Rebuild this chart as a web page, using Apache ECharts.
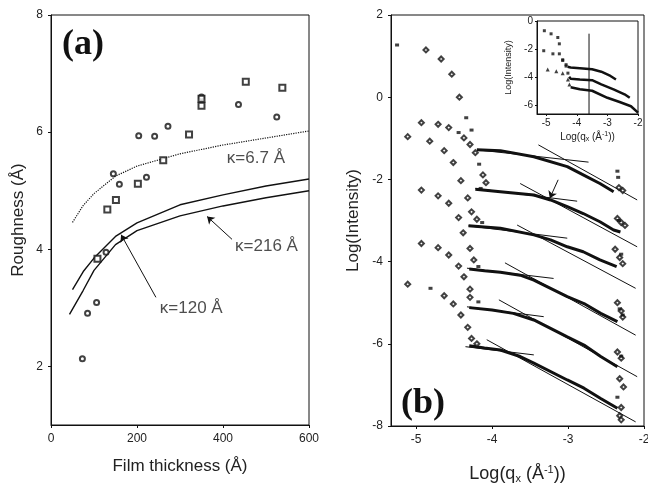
<!DOCTYPE html>
<html>
<head>
<meta charset="utf-8">
<script src="https://cdn.jsdelivr.net/npm/echarts@6/dist/echarts.min.js"></script>
<style>
    html, body { margin: 0; padding: 0; background: #fff; }
    #main { width: 648px; height: 484px; }
</style>
</head>
<body>
<div id="main"></div>
<script>
// ---- panel (a): roughness vs film thickness ----
var circX = [73, 85, 106, 128, 145, 159, 204, 222, 241, 272, 350, 436, 525];
var circY = [2.13, 2.91, 3.09, 3.95, 5.29, 5.11, 5.94, 5.23, 5.93, 6.10, 6.6, 6.47, 6.26];
var sqX = [108, 131, 151, 202, 261, 321, 350, 350, 453, 538];
var sqY = [3.84, 4.68, 4.84, 5.12, 5.52, 5.96, 6.45, 6.57, 6.86, 6.76];
var curveX = [50, 75, 100, 150, 200, 300, 400, 500, 600];
var k67Y = [4.46, 4.75, 4.95, 5.25, 5.42, 5.63, 5.78, 5.90, 6.02];
var k120Y = [3.31, 3.62, 3.85, 4.22, 4.45, 4.76, 4.93, 5.08, 5.20];
var k216X = [43, 75, 100, 150, 200, 300, 400, 500, 600];
var k216Y = [2.89, 3.30, 3.64, 4.08, 4.32, 4.57, 4.74, 4.88, 5.00];
var kappaText = ['κ=6.7 Å', 'κ=216 Å', 'κ=120 Å'];
var kappaPos = [[409, 5.55], [428, 4.05], [253, 2.99]];
var arrowsA = [[[421, 4.17], [363, 4.56]], [[244, 3.18], [163, 4.25]]];

// ---- panel (b): log intensity vs log qx ----
var lowQDiamonds = [[-4.87, 1.15], [-4.67, 0.93], [-4.53, 0.56], [-4.43, 0.0], [-4.12, -1.89], [-4.08, -2.08],
    [-4.93, -0.62], [-4.71, -0.66], [-4.57, -0.74], [-4.37, -0.99], [-4.29, -1.15], [-4.22, -1.35],
    [-5.11, -0.96], [-4.82, -1.07], [-4.63, -1.30], [-4.51, -1.59], [-4.41, -2.03], [-4.32, -2.45], [-4.27, -2.79], [-4.20, -2.97],
    [-4.93, -2.26], [-4.71, -2.40], [-4.57, -2.58], [-4.44, -2.93],
    [-4.38, -3.30], [-4.93, -3.56], [-4.71, -3.66], [-4.57, -3.84], [-4.29, -3.68], [-4.44, -4.11], [-4.24, -3.96], [-4.37, -4.37],
    [-5.11, -4.55], [-4.63, -4.83], [-4.51, -5.03], [-4.41, -5.30], [-4.29, -4.67], [-4.29, -4.87], [-4.32, -5.60], [-4.27, -5.87], [-4.20, -6.00]];
var lowQSquares = [[-5.25, 1.27], [-4.34, -0.50], [-4.27, -0.80], [-4.17, -1.63], [-4.44, -0.86], [-4.15, -2.22],
    [-4.13, -3.05], [-4.18, -4.12], [-4.81, -4.65], [-4.18, -4.98]];
var endDiamonds = [[-2.33, -2.2], [-2.28, -2.27], [-2.35, -2.95], [-2.30, -3.05], [-2.25, -3.12], [-2.38, -3.70], [-2.32, -3.90],
    [-2.28, -4.05], [-2.35, -5.00], [-2.30, -5.20], [-2.28, -5.35], [-2.35, -6.20], [-2.30, -6.35], [-2.32, -6.85],
    [-2.27, -7.05], [-2.30, -7.55], [-2.32, -7.75], [-2.30, -7.85]];
var endSquares = [[-2.35, -1.80], [-2.34, -1.95], [-2.33, -3.00], [-2.30, -3.82], [-2.32, -5.15], [-2.28, -5.30], [-2.30, -6.30], [-2.35, -7.30]];
var curve1 = [[-4.20, -1.28], [-3.89, -1.30], [-3.45, -1.45], [-3.01, -1.69], [-2.80, -1.89], [-2.58, -2.10], [-2.40, -2.30]];
var curve2 = [[-4.22, -2.24], [-3.89, -2.30], [-3.45, -2.38], [-3.23, -2.50], [-3.01, -2.66], [-2.80, -2.83], [-2.58, -3.03], [-2.40, -3.23], [-2.31, -3.28]];
var curve3 = [[-4.31, -3.13], [-3.89, -3.19], [-3.45, -3.35], [-3.23, -3.47], [-3.01, -3.64], [-2.80, -3.76], [-2.58, -3.96], [-2.36, -4.12]];
var curve4 = [[-4.30, -4.18], [-4.10, -4.22], [-3.89, -4.26], [-3.63, -4.33], [-3.45, -4.45], [-3.01, -4.85], [-2.79, -5.02], [-2.57, -5.26], [-2.35, -5.46]];
var curve5 = [[-4.30, -5.12], [-4.00, -5.18], [-3.72, -5.26], [-3.45, -5.42], [-3.01, -5.83], [-2.79, -6.03], [-2.57, -6.31], [-2.35, -6.56]];
var curve6 = [[-4.30, -6.05], [-4.10, -6.10], [-3.89, -6.15], [-3.63, -6.31], [-3.45, -6.47], [-3.01, -6.88], [-2.79, -7.08], [-2.57, -7.33], [-2.35, -7.57]];
var flatFits = [[[-4.20, -1.28], [-2.73, -1.58]], [[-4.22, -2.22], [-2.88, -2.53]], [[-4.31, -3.13], [-3.01, -3.43]],
    [[-4.33, -4.16], [-3.19, -4.41]], [[-4.33, -5.10], [-3.32, -5.34]], [[-4.35, -6.07], [-3.45, -6.27]]];
var steepFits = [[[-3.39, -1.16], [-2.09, -2.50]], [[-3.63, -2.10], [-2.09, -3.64]], [[-3.67, -3.11], [-2.11, -4.65]],
    [[-3.83, -4.03], [-2.11, -5.79]], [[-3.91, -4.93], [-2.09, -6.80]], [[-4.07, -5.90], [-2.11, -7.90]]];
var arrowB = [[-3.13, -2.01], [-3.24, -2.46]];

// ---- inset ----
var insetTopPts = [[-5.06, -0.69], [-4.84, -0.91], [-4.62, -1.17], [-4.57, -1.62], [-4.46, -2.75], [-4.35, -3.10]];
var insetTopLine = [[-4.30, -3.25], [-4.20, -3.30], [-3.90, -3.35], [-3.50, -3.42], [-3.20, -3.60], [-2.90, -3.90], [-2.72, -4.15]];
var insetMidPts = [[-5.08, -2.11], [-4.78, -2.33], [-4.57, -2.33], [-4.46, -2.80], [-4.35, -3.20], [-4.29, -3.70]];
var insetMidLine = [[-4.25, -3.95], [-4.20, -4.10], [-3.90, -4.15], [-3.50, -4.20], [-3.20, -4.50], [-2.80, -4.85], [-2.44, -5.20], [-2.27, -5.45]];
var insetBotPts = [[-4.95, -3.45], [-4.67, -3.57], [-4.46, -3.70], [-4.29, -4.16], [-4.24, -4.50]];
var insetBotLine = [[-4.20, -4.70], [-3.90, -4.85], [-3.50, -4.95], [-3.00, -5.45], [-2.60, -5.75], [-2.23, -6.05], [-2.00, -6.50]];
var insetMark = [[-3.6, -0.9], [-3.6, -6.6]];

function zip(xs, ys) {
    var out = [];
    for (var i = 0; i < xs.length; i++) {
        out.push([xs[i], ys[i]]);
    }
    return out;
}

var font = 'Liberation Sans, Arial, sans-serif';
var black = '#111';

function valueAxis(grid, min, max, extra) {
    var ax = {
        type: 'value', gridIndex: grid, min: min, max: max,
        splitLine: { show: false },
        axisLine: { show: true, onZero: false, lineStyle: { color: black, width: 1 } },
        axisTick: { show: true, length: 3, lineStyle: { color: black } },
        axisLabel: { color: '#222', fontFamily: font, fontSize: 12, margin: 8 },
        nameTextStyle: { color: '#222', fontFamily: font, fontSize: 17 }
    };
    for (var k in extra) {
        ax[k] = extra[k];
    }
    return ax;
}

function lineSeries(data, xi, width, type) {
    return {
        type: 'line', xAxisIndex: xi, yAxisIndex: xi, data: data, z: 3,
        showSymbol: false, smooth: false, silent: true,
        lineStyle: { color: black, width: width, type: type || 'solid' }
    };
}

function dots(data, xi, symbol, size, bw) {
    return {
        type: 'scatter', xAxisIndex: xi, yAxisIndex: xi, data: data, z: 4,
        symbol: symbol, symbolSize: size, silent: true,
        itemStyle: { color: black, borderColor: black, borderWidth: bw || 0 }
    };
}

function segments(list, xi, arrow) {
    var data = [];
    for (var i = 0; i < list.length; i++) {
        data.push({ coords: list[i] });
    }
    return {
        type: 'lines', coordinateSystem: 'cartesian2d', xAxisIndex: xi, yAxisIndex: xi,
        data: data, silent: true, z: 3,
        symbol: arrow ? ['none', 'arrow'] : ['none', 'none'], symbolSize: 7,
        lineStyle: { color: black, width: 1, opacity: 1 }
    };
}

var kappaData = [];
for (var i = 0; i < kappaText.length; i++) {
    kappaData.push({ name: kappaText[i], value: kappaPos[i] });
}

var series = [
    lineSeries(zip(curveX, k67Y), 0, 1.2, 'dotted'),
    lineSeries(zip(curveX, k120Y), 0, 1.4),
    lineSeries(zip(k216X, k216Y), 0, 1.4),
    dots(zip(circX, circY), 0, 'emptyCircle', 5, 1),
    dots(zip(sqX, sqY), 0, 'emptyRect', 6, 1.2),
    segments(arrowsA, 0, true),
    {
        type: 'scatter', xAxisIndex: 0, yAxisIndex: 0, data: kappaData,
        symbolSize: 0, silent: true,
        label: {
            show: true, position: 'right', distance: 0, formatter: '{b}',
            color: '#222', fontFamily: font, fontSize: 17
        }
    },
    // panel b
    segments(flatFits, 1, false),
    segments(steepFits, 1, false),
    segments([arrowB], 1, true),
    lineSeries(curve1, 1, 3),
    lineSeries(curve2, 1, 3),
    lineSeries(curve3, 1, 3),
    lineSeries(curve4, 1, 3),
    lineSeries(curve5, 1, 3),
    lineSeries(curve6, 1, 3),
    dots(lowQDiamonds, 1, 'emptyDiamond', 5, 0.9),
    dots(endDiamonds, 1, 'emptyDiamond', 5, 0.9),
    dots(lowQSquares, 1, 'rect', [4, 3]),
    dots(endSquares, 1, 'rect', [4, 3]),
    // inset
    lineSeries(insetMark, 2, 1),
    dots(insetTopPts, 2, 'rect', 3),
    lineSeries(insetTopLine, 2, 2.5),
    dots(insetMidPts, 2, 'rect', 3),
    lineSeries(insetMidLine, 2, 2.5),
    dots(insetBotPts, 2, 'triangle', 4),
    lineSeries(insetBotLine, 2, 2.5)
];

var option = {
    backgroundColor: '#fff',
    animation: false,
    grid: [
        { left: 51, top: 15, width: 258, height: 410, show: true, borderColor: black, borderWidth: 1, outerBoundsMode: 'none' },
        { left: 391, top: 15, width: 253, height: 411, show: true, borderColor: black, borderWidth: 1, outerBoundsMode: 'none' },
        { left: 537, top: 21, width: 101, height: 93, show: true, borderColor: black, borderWidth: 1, backgroundColor: '#fff', outerBoundsMode: 'none' }
    ],
    xAxis: [
        valueAxis(0, 0, 600, {
            interval: 200, name: 'Film thickness (Å)', nameLocation: 'middle', nameGap: 33
        }),
        valueAxis(1, -5.33, -2, {
            axisLabel: { color: '#222', fontFamily: font, fontSize: 12, margin: 8, customValues: [-5, -4, -3, -2] },
            axisTick: { show: true, length: 3, lineStyle: { color: black }, customValues: [-5, -4, -3, -2] },
            name: 'Log(q{sub|x} (Å{sup|-1}))', nameLocation: 'middle', nameGap: 38,
            nameTextStyle: {
                color: '#222', fontFamily: font, fontSize: 18,
                rich: {
                    sub: { fontSize: 11, verticalAlign: 'bottom', padding: [9, 0, 0, 0], fontFamily: font, color: '#222' },
                    sup: { fontSize: 11, verticalAlign: 'top', padding: [0, 0, 9, 0], fontFamily: font, color: '#222' }
                }
            }
        }),
        valueAxis(2, -5.3, -2, {
            axisLabel: { color: '#222', fontFamily: font, fontSize: 10, margin: 4, customValues: [-5, -4, -3, -2] },
            axisTick: { show: true, length: 2, lineStyle: { color: black }, customValues: [-5, -4, -3, -2] },
            name: 'Log(q{sub|x} (Å{sup|-1}))', nameLocation: 'middle', nameGap: 17,
            nameTextStyle: {
                color: '#222', fontFamily: font, fontSize: 10,
                rich: {
                    sub: { fontSize: 7, verticalAlign: 'bottom', padding: [5, 0, 0, 0], fontFamily: font, color: '#222' },
                    sup: { fontSize: 7, verticalAlign: 'top', padding: [0, 0, 5, 0], fontFamily: font, color: '#222' }
                }
            }
        })
    ],
    yAxis: [
        valueAxis(0, 1, 8, {
            axisLabel: { color: '#222', fontFamily: font, fontSize: 12, margin: 8, customValues: [2, 4, 6, 8] },
            axisTick: { show: true, length: 3, lineStyle: { color: black }, customValues: [2, 4, 6, 8] },
            name: 'Roughness (Å)', nameLocation: 'middle', nameGap: 24, nameRotate: 90
        }),
        valueAxis(1, -8, 2, {
            interval: 2, name: 'Log(Intensity)', nameLocation: 'middle', nameGap: 29, nameRotate: 90
        }),
        valueAxis(2, -6.6, 0, {
            axisLabel: { color: '#222', fontFamily: font, fontSize: 10, margin: 4, customValues: [0, -2, -4, -6] },
            axisTick: { show: true, length: 2, lineStyle: { color: black }, customValues: [0, -2, -4, -6] },
            name: 'Log(Intensity)', nameLocation: 'middle', nameGap: 24, nameRotate: 90,
            nameTextStyle: { color: '#222', fontFamily: font, fontSize: 9 }
        })
    ],
    graphic: [
        { type: 'text', left: 62, top: 27, style: { text: '(a)', font: 'bold 36px "Liberation Serif", "Times New Roman", serif', fill: '#111' } },
        { type: 'text', left: 401, top: 386, style: { text: '(b)', font: 'bold 36px "Liberation Serif", "Times New Roman", serif', fill: '#111' } }
    ],
    series: series
};

var chart = echarts.init(document.getElementById('main'));
chart.setOption(option);
</script>
</body>
</html>
